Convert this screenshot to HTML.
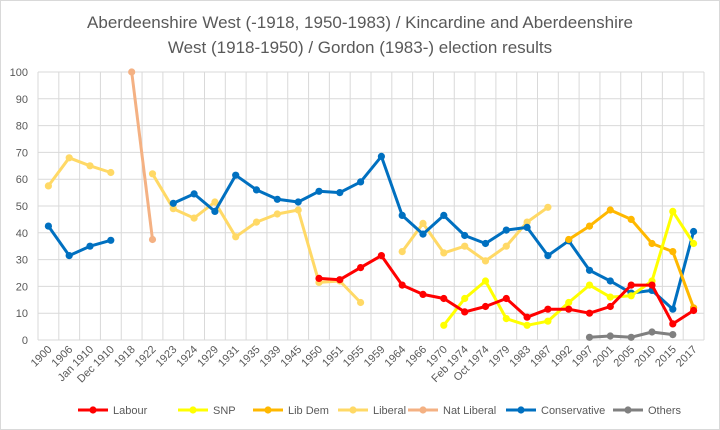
<!DOCTYPE html>
<html><head><meta charset="utf-8"><style>
html,body{margin:0;padding:0;background:#fff}
svg{display:block;font-family:"Liberation Sans",Arial,sans-serif}
</style></head><body>
<svg id="c" width="720" height="430" viewBox="0 0 720 430" xmlns="http://www.w3.org/2000/svg">
<rect x="0.5" y="0.5" width="719" height="429" fill="#fff" stroke="#d9d9d9"/>
<text x="360" y="28" text-anchor="middle" font-size="17" fill="#595959">Aberdeenshire West (-1918, 1950-1983) / Kincardine and Aberdeenshire</text>
<text x="360" y="53" text-anchor="middle" font-size="17" fill="#595959">West (1918-1950) / Gordon (1983-) election results</text>
<g id="g"></g>
</svg>
<script>
var cats=["1900","1906","Jan 1910","Dec 1910","1918","1922","1923","1924","1929","1931","1935","1939","1945","1950","1951","1955","1959","1964","1966","1970","Feb 1974","Oct 1974","1979","1983","1987","1992","1997","2001","2005","2010","2015","2017"];
var X0=38,W=666,Y0=340,H=268,n=cats.length,cw=W/n;
function px(i){return X0+cw*(i+0.5)}function py(v){return Y0-v*H/100}
var s='';
for(var k=0;k<=10;k++){var y=py(k*10);s+='<line x1="'+X0+'" x2="'+(X0+W)+'" y1="'+y+'" y2="'+y+'" stroke="#d9d9d9"/>';s+='<text x="28" y="'+(y+4)+'" text-anchor="end" font-size="11" fill="#595959">'+k*10+'</text>';}
for(var i=0;i<=n;i++){var x=X0+cw*i;s+='<line x1="'+x+'" x2="'+x+'" y1="'+py(100)+'" y2="'+Y0+'" stroke="#d9d9d9"/>';}
for(var i=0;i<n;i++){var x=px(i)+4,y=350;s+='<text transform="translate('+x+','+y+') rotate(-45)" text-anchor="end" font-size="11" fill="#595959">'+cats[i]+'</text>';}
var N=null;
var series=[
["Liberal","#FFD966",[57.5,68,65,62.5,N,62,49,45.5,51.5,38.5,44,47,48.5,21.5,22,14,N,33,43.5,32.5,35,29.5,35,44,49.5]],
["Nat Liberal","#F4B183",[N,N,N,N,100,37.5]],
["Conservative","#0070C0",[42.5,31.5,35,37.2,N,N,51,54.5,48,61.5,56,52.5,51.5,55.5,55,59,68.5,46.5,39.5,46.5,39,36,41,42,31.5,37,26,22,17.5,18.5,11.5,40.5]],
["Lib Dem","#FFB800",[N,N,N,N,N,N,N,N,N,N,N,N,N,N,N,N,N,N,N,N,N,N,N,N,N,37.5,42.5,48.5,45,36,33,12]],
["SNP","#FFFF00",[N,N,N,N,N,N,N,N,N,N,N,N,N,N,N,N,N,N,N,5.5,15.5,22,8,5.5,7,14,20.5,16,16.5,22,48,36]],
["Labour","#FF0000",[N,N,N,N,N,N,N,N,N,N,N,N,N,23,22.5,27,31.5,20.5,17,15.5,10.5,12.5,15.5,8.5,11.5,11.5,10,12.5,20.5,20.5,6,11]],
["Others","#808080",[N,N,N,N,N,N,N,N,N,N,N,N,N,N,N,N,N,N,N,N,N,N,N,N,N,N,1,1.5,1,3,2]]
];
series.forEach(function(se){var d=se[2],path='',pen=false,dots='';
for(var i=0;i<d.length;i++){if(d[i]===N){pen=false;continue;}path+=(pen?'L':'M')+px(i).toFixed(1)+' '+py(d[i]).toFixed(1);pen=true;dots+='<circle cx="'+px(i).toFixed(1)+'" cy="'+py(d[i]).toFixed(1)+'" r="3.6" fill="'+se[1]+'"/>';}
s+='<path d="'+path+'" fill="none" stroke="'+se[1]+'" stroke-width="3" stroke-linejoin="round"/>'+dots;});
var leg=[["Labour","#FF0000",78],["SNP","#FFFF00",178],["Lib Dem","#FFB800",253],["Liberal","#FFD966",338],["Nat Liberal","#F4B183",408],["Conservative","#0070C0",506],["Others","#808080",613]];
leg.forEach(function(l){var x=l[2],y=410;s+='<line x1="'+x+'" x2="'+(x+30)+'" y1="'+y+'" y2="'+y+'" stroke="'+l[1]+'" stroke-width="3"/><circle cx="'+(x+15)+'" cy="'+y+'" r="3.6" fill="'+l[1]+'"/><text x="'+(x+35)+'" y="'+(y+4)+'" font-size="11" fill="#595959">'+l[0]+'</text>';});
document.getElementById('g').innerHTML=s;
</script>
</body></html>
